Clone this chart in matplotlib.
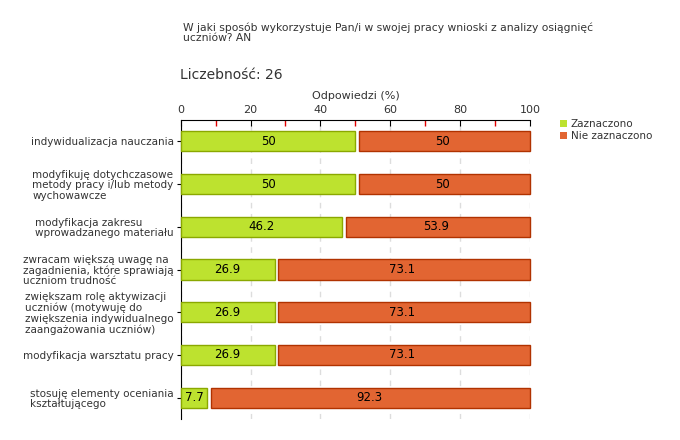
import matplotlib.pyplot as plt
from matplotlib.ticker import MultipleLocator, FixedLocator
from matplotlib.patches import Patch

categories = [
    'indywidualizacja nauczania',
    'modyfikuję dotychczasowe\nmetody pracy i/lub metody\nwychowawcze',
    'modyfikacja zakresu\nwprowadzanego materiału',
    'zwracam większą uwagę na\nzagadnienia, które sprawiają\nuczniom trudność',
    'zwiększam rolę aktywizacji\nuczniów (motywuję do\nzwiększenia indywidualnego\nzaangażowania uczniów)',
    'modyfikacja warsztatu pracy',
    'stosuję elementy oceniania\nkształtującego',
]
zaznaczono = [50, 50, 46.2, 26.9, 26.9, 26.9, 7.7]
nie_zaznaczono = [50, 50, 53.9, 73.1, 73.1, 73.1, 92.3]
series_names = ['Zaznaczono', 'Nie zaznaczono']

green = '#bde22f'
green_edge = '#8aa800'
red = '#e26532'
red_edge = '#b03200'
text_col = '#333333'

plt.rcParams['font.family'] = ['DejaVu Sans']

fig = plt.figure(figsize=(6.8, 4.4), dpi=100)
ax = fig.add_axes([0.2655, 0.048, 0.5145, 0.679])

y = list(range(len(categories)))
gap = 1.0  # small white gap between the two segments
ax.barh(y, zaznaczono, height=0.47, color=green, edgecolor=green_edge, linewidth=1, zorder=3, clip_on=False)
ax.barh(y, [min(n, 100 - z) - gap for z, n in zip(zaznaczono, nie_zaznaczono)],
        left=[z + gap for z in zaznaczono], height=0.47,
        color=red, edgecolor=red_edge, linewidth=1, zorder=3, clip_on=False)

for i in y:
    ax.text(zaznaczono[i] / 2, i, f'{zaznaczono[i]:g}', ha='center', va='center', fontsize=8.5, color='black', zorder=4)
    ax.text(zaznaczono[i] + nie_zaznaczono[i] / 2, i, f'{nie_zaznaczono[i]:g}', ha='center', va='center',
            fontsize=8.5, color='black', zorder=4)

ax.set_xlim(0, 100)
ax.set_ylim(len(categories) - 0.5, -0.5)
ax.xaxis.tick_top()
ax.xaxis.set_label_position('top')
ax.xaxis.set_major_locator(MultipleLocator(20))
ax.xaxis.set_minor_locator(FixedLocator([10, 30, 50, 70, 90]))
ax.tick_params(axis='x', which='major', direction='in', length=4, color='black', labelsize=8,
               labelcolor=text_col, pad=4)
ax.tick_params(axis='x', which='minor', direction='in', length=4, width=1, color='#e00000')
ax.set_xlabel('Odpowiedzi (%)', fontsize=8, color=text_col, labelpad=4)

ax.set_yticks(y)
ax.set_yticklabels(categories, fontsize=7.5, color=text_col, multialignment='left', linespacing=1.05)
ax.tick_params(axis='y', length=3, color='black', pad=2)

ax.xaxis.grid(True, which='major', linestyle=(0, (4, 4)), color='#dddddd', linewidth=1)
ax.set_axisbelow(True)

for s in ['right', 'bottom']:
    ax.spines[s].set_visible(False)
ax.spines['top'].set_color('black')
ax.spines['left'].set_color('black')

fig.text(183 / 680, 1 - 33 / 440, 'W jaki sposób wykorzystuje Pan/i w swojej pracy wnioski z analizy osiągnięć\nuczniów? AN',
         fontsize=7.75, color=text_col, va='center', ha='left', linespacing=1.0)
fig.text(180 / 680, 1 - 75 / 440, 'Liczebność: 26', fontsize=10, color=text_col, va='center', ha='left')

handles = [Patch(facecolor=green, edgecolor='none'), Patch(facecolor=red, edgecolor='none')]
fig.legend(handles, series_names, loc='upper left', bbox_to_anchor=(551 / 680, 1 - 110 / 440), frameon=False,
           fontsize=7.5, handlelength=0.6, handleheight=0.6, handletextpad=0.4, labelspacing=0.2,
           labelcolor=text_col)

fig.savefig('out.png', dpi=100)
